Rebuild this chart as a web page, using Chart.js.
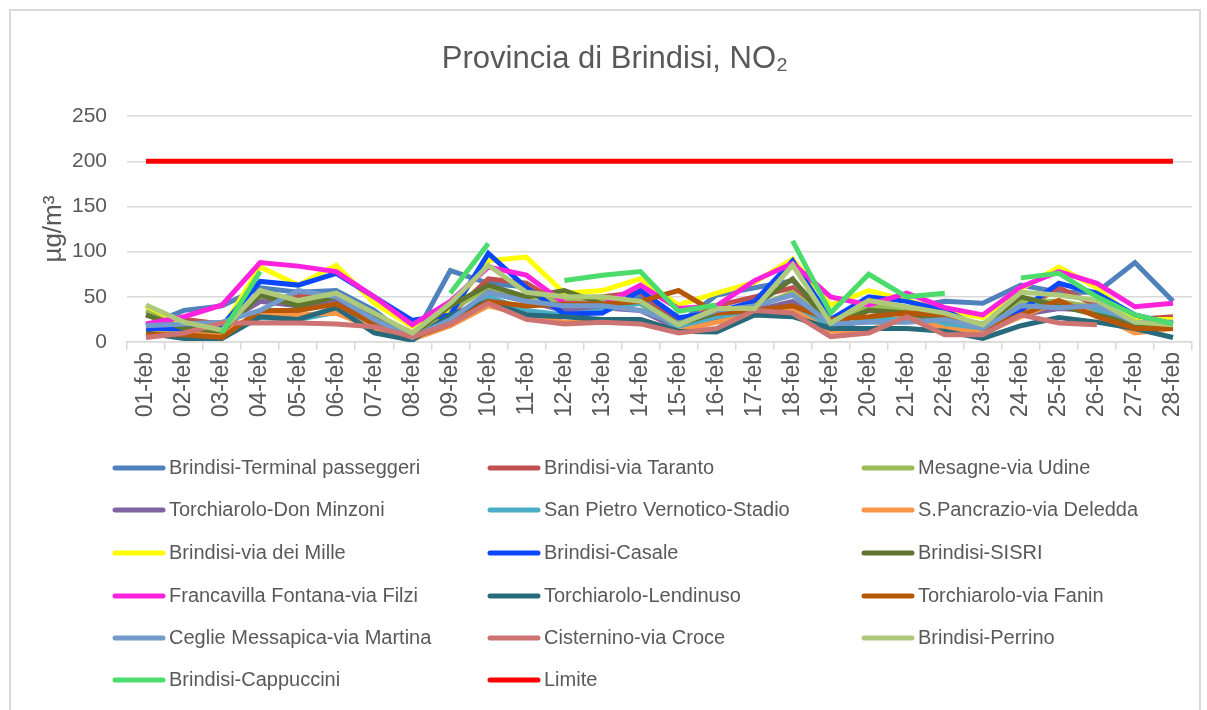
<!DOCTYPE html>
<html>
<head>
<meta charset="utf-8">
<script src="https://cdn.jsdelivr.net/npm/chart.js@4.4.1/dist/chart.umd.min.js"></script>
<style>
  html, body { margin: 0; padding: 0; background: #fff; }
  #wrap { position: relative; width: 1207px; height: 710px; overflow: hidden; }
  #frame { position: absolute; left: 9px; top: 9px; width: 1188px; height: 720px; border: 2px solid #d9d9d9; }
  canvas { position: absolute; left: 0; top: 0; }
</style>
</head>
<body>
<div id="wrap">
  <div id="frame"></div>
  <canvas id="no2Chart"></canvas>
</div>
<script>
// giorni di febbraio
const days = ['01-feb','02-feb','03-feb','04-feb','05-feb','06-feb','07-feb','08-feb','09-feb','10-feb',
  '11-feb','12-feb','13-feb','14-feb','15-feb','16-feb','17-feb','18-feb','19-feb','20-feb',
  '21-feb','22-feb','23-feb','24-feb','25-feb','26-feb','27-feb','28-feb'];

// NO2 giornaliero (µg/m3) per stazione
const terminalPasseggeri = [18,35,40,60,55,57,35,2,79,65,61,35,33,50,20,52,60,68,25,35,38,45,43,63,55,55,88,45];
const viaTaranto        = [30,25,20,45,50,50,30,10,30,70,65,40,50,55,20,40,50,60,20,35,30,20,15,35,60,40,25,28];
const viaUdine          = [35,18,12,50,45,50,25,8,35,60,50,45,48,42,18,30,38,55,22,40,35,28,20,45,45,38,20,15];
const donMinzoni        = [15,12,20,45,40,45,25,5,20,55,45,35,38,35,15,25,35,45,15,25,25,20,12,30,37,35,15,15];
const sanPietro         = [12,10,12,27,25,33,20,5,25,50,35,30,35,43,15,28,32,40,15,25,25,20,15,40,42,35,20,18];
const sPancrazio        = [10,8,10,32,30,32,15,3,18,40,30,22,22,25,12,22,30,35,12,13,27,15,10,28,45,30,10,15];
const viaDeiMille       = [40,20,15,83,63,85,43,17,35,90,94,54,57,70,41,54,66,92,41,57,46,35,27,59,83,60,25,25];
const casale            = [15,15,18,67,63,76,50,24,30,98,60,31,32,57,27,33,45,90,25,50,45,35,15,35,65,54,30,20];
const sisri             = [30,15,12,52,40,50,28,8,40,63,50,57,42,45,20,32,40,70,18,35,32,25,18,50,40,30,20,18];
const francavilla       = [20,28,41,88,84,78,50,19,45,83,74,43,41,63,37,40,68,87,50,41,54,38,30,61,78,65,39,43];
const lendinuso         = [10,4,4,28,25,38,10,2,30,45,30,28,25,25,12,11,30,28,15,15,15,12,4,18,27,22,15,5];
const viaFanin          = [8,8,5,35,35,42,20,5,20,45,40,42,42,45,57,32,35,40,25,28,32,30,15,30,46,28,15,15];
const ceglie            = [18,20,22,35,57,50,25,5,25,55,45,40,40,35,20,35,40,52,20,22,22,25,15,40,38,40,22,22];
const cisternino        = [5,10,21,21,21,20,17,6,20,43,25,20,22,20,10,15,35,32,6,10,28,8,8,30,21,19,null,null];
const perrino           = [41,22,13,57,46,54,32,10,43,85,55,50,50,45,19,37,37,85,21,46,39,32,19,55,52,46,22,19];
const cappuccini        = [null,null,10,78,null,null,null,null,54,109,null,68,74,78,34,41,null,112,32,75,50,54,null,71,76,50,30,20];
const limite            = days.map(() => 200);

const stationNames = ['Brindisi-Terminal passeggeri','Brindisi-via Taranto','Mesagne-via Udine',
  'Torchiarolo-Don Minzoni','San Pietro Vernotico-Stadio','S.Pancrazio-via Deledda',
  'Brindisi-via dei Mille','Brindisi-Casale','Brindisi-SISRI',
  'Francavilla Fontana-via Filzi','Torchiarolo-Lendinuso','Torchiarolo-via Fanin',
  'Ceglie Messapica-via Martina','Cisternino-via Croce','Brindisi-Perrino',
  'Brindisi-Cappuccini','Limite'];
const stationValues = [terminalPasseggeri, viaTaranto, viaUdine, donMinzoni, sanPietro, sPancrazio,
  viaDeiMille, casale, sisri, francavilla, lendinuso, viaFanin, ceglie, cisternino, perrino,
  cappuccini, limite];
const colors = ['#4f81bd','#c0504d','#9bbb59','#8064a2','#4bacc6','#f79646',
  '#ffff00','#0a47ff','#5f7530','#ff22dd','#276a7c','#b65708',
  '#729aca','#cd7371','#afc97a','#4cdc6c','#ff0000'];

const FONT = "'Liberation Sans', Arial, sans-serif";
const GREY = '#595959';

// legenda a 3 colonne disegnata sul canvas
const gridLegend = {
  id: 'gridLegend',
  afterDraw(chart) {
    const ctx = chart.ctx;
    const colX = [113, 488, 862];
    const rowY = [468, 510, 553, 596, 638, 680];
    ctx.save();
    ctx.font = '20px ' + FONT;
    ctx.textBaseline = 'middle';
    ctx.textAlign = 'left';
    chart.data.datasets.forEach((ds, i) => {
      const x = colX[i % 3];
      const y = rowY[Math.floor(i / 3)];
      ctx.strokeStyle = ds.borderColor;
      ctx.lineWidth = 5;
      ctx.lineCap = 'round';
      ctx.beginPath();
      ctx.moveTo(x + 2, y);
      ctx.lineTo(x + 50, y);
      ctx.stroke();
      ctx.fillStyle = GREY;
      ctx.fillText(ds.label, x + 56, y);
    });
    ctx.restore();
  }
};

const ctx = document.getElementById('no2Chart').getContext('2d');
new Chart(ctx, {
  type: 'line',
  data: {
    labels: days,
    datasets: stationNames.map((name, i) => ({
      label: name,
      data: stationValues[i],
      borderColor: colors[i],
      backgroundColor: colors[i],
      borderWidth: 5,
      pointRadius: 0,
      tension: 0,
      order: -i
    }))
  },
  options: {
    responsive: true,
    maintainAspectRatio: false,
    animation: false,
    layout: { padding: { left: 38, right: 15, top: 0, bottom: 0 } },
    plugins: {
      legend: { display: false },
      tooltip: { enabled: false },
      title: {
        display: true,
        text: 'Provincia di Brindisi, NO₂',
        color: GREY,
        font: { family: FONT, size: 31, weight: 'normal' },
        padding: { top: 41, bottom: 38 }
      }
    },
    scales: {
      x: {
        offset: true,
        grid: { offset: true, drawOnChartArea: false, drawTicks: true, tickLength: 8, color: '#d9d9d9', lineWidth: 1.5 },
        border: { color: '#d9d9d9', width: 1.5 },
        ticks: { autoSkip: false, minRotation: 90, maxRotation: 90, padding: 2, color: GREY, font: { family: FONT, size: 23 } },
        afterFit(scale) { scale.height = 368; }
      },
      y: {
        min: 0,
        max: 250,
        ticks: { stepSize: 50, padding: 20, color: GREY, font: { family: FONT, size: 21 } },
        grid: { drawTicks: false, color: '#d9d9d9', lineWidth: 1.5 },
        border: { display: false },
        title: {
          display: true,
          text: 'µg/m³',
          color: GREY,
          font: { family: FONT, size: 26 },
          padding: { top: 0, bottom: 0 }
        },
        afterFit(scale) { scale.width = 89; }
      }
    }
  },
  plugins: [gridLegend]
});
</script>
</body>
</html>
